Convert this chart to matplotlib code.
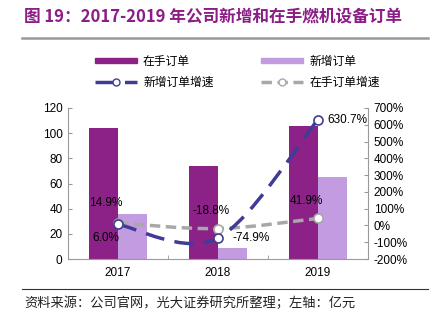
import matplotlib
matplotlib.use('Agg')
import matplotlib.pyplot as plt
import numpy as np
from matplotlib.path import Path
from matplotlib.patches import PathPatch, Patch
from matplotlib.lines import Line2D

plt.rcParams['font.family'] = ['Liberation Sans', 'Noto Sans CJK SC', 'DejaVu Sans']

years = ['2017', '2018', '2019']
backlog = [104, 74, 105.5]        # 在手订单（亿元）
new_orders = [36, 8.7, 65.5]      # 新增订单（亿元）
new_growth = [6.0, -74.9, 630.7]  # 新增订单增速（%）
backlog_growth = [14.9, -18.8, 41.9]  # 在手订单增速（%）

c_dark = '#8C2287'
c_light = '#C39BE0'
c_blue = '#403C96'
c_grey = '#A8A8A8'
c_axis = '#9A9A9A'
cjk = ['Noto Sans CJK SC', 'DejaVu Sans']


def smooth_path(xs, ys):
    # Excel 风格平滑线：Catmull-Rom 转 Bezier
    pts = list(zip(xs, ys))
    ext = [pts[0]] + pts + [pts[-1]]
    verts = [pts[0]]
    codes = [Path.MOVETO]
    for i in range(1, len(ext) - 2):
        p0, p1, p2, p3 = ext[i - 1], ext[i], ext[i + 1], ext[i + 2]
        c1 = (p1[0] + (p2[0] - p0[0]) / 6, p1[1] + (p2[1] - p0[1]) / 6)
        c2 = (p2[0] - (p3[0] - p1[0]) / 6, p2[1] - (p3[1] - p1[1]) / 6)
        verts += [c1, c2, p2]
        codes += [Path.CURVE4] * 3
    return Path(verts, codes)


fig = plt.figure(figsize=(4.3, 3.24), dpi=100)
ax = fig.add_axes([68 / 430, 1 - 259 / 324, 300 / 430, 151 / 324])
ax2 = ax.twinx()

x = np.arange(len(years))
w = 0.29
ax.bar(x - w / 2, backlog, width=w, color=c_dark, zorder=2)
ax.bar(x + w / 2, new_orders, width=w, color=c_light, zorder=2)
ax.set_xlim(-0.5, 2.5)
ax.set_ylim(0, 120)
ax.set_yticks(range(0, 121, 20))
ax.set_xticks(x)
ax.set_xticklabels(years)
ax.set_xticks([0.5, 1.5], minor=True)
ax.tick_params(axis='x', which='major', length=0, labelsize=8.5, pad=6)
ax.tick_params(axis='x', which='minor', direction='in', length=3, color=c_axis)
ax.tick_params(axis='y', direction='in', length=3, color=c_axis, labelsize=8.5, pad=4)

ax2.set_ylim(-200, 700)
ax2.set_yticks(range(-200, 701, 100))
ax2.set_yticklabels([f'{v}%' for v in range(-200, 701, 100)])
ax2.tick_params(axis='y', direction='in', length=3, color=c_axis, labelsize=8.5, pad=4)

for a in (ax, ax2):
    a.spines['top'].set_visible(False)
    for s in ('left', 'right', 'bottom'):
        a.spines[s].set_color(c_axis)
ax.spines['right'].set_visible(False)
ax2.spines['left'].set_visible(False)
ax2.spines['bottom'].set_visible(False)

ax2.add_patch(PathPatch(smooth_path(x, backlog_growth), fill=False, edgecolor=c_grey,
                        lw=2.5, linestyle=(0, (3, 1.6)), capstyle='butt', zorder=3))
ax2.add_patch(PathPatch(smooth_path(x, new_growth), fill=False, edgecolor=c_blue,
                        lw=2.5, linestyle=(0, (5.5, 3)), capstyle='butt', zorder=4))
ax2.plot(x, backlog_growth, 'o', ms=6.5, mfc='white', mec=c_grey, mew=1.2, zorder=5)
ax2.plot(x, new_growth, 'o', ms=6.5, mfc='white', mec=c_blue, mew=1.2, zorder=6)

# 数据标签 (偏移, 像素 -> 点)
k = 0.72
offs_b = [(-12, 20), (-7, 18), (-12, 17)]
offs_n = [(-12, -14), (33, 0), (29, 0)]
for i in range(3):
    ax2.annotate(f'{backlog_growth[i]:.1f}%', (x[i], backlog_growth[i]),
                 xytext=(offs_b[i][0] * k, offs_b[i][1] * k), textcoords='offset points',
                 ha='center', va='center', fontsize=8.5, zorder=7)
    ax2.annotate(f'{new_growth[i]:.1f}%', (x[i], new_growth[i]),
                 xytext=(offs_n[i][0] * k, offs_n[i][1] * k), textcoords='offset points',
                 ha='center', va='center', fontsize=8.5, zorder=7)

# 图例
handles = [
    Patch(color=c_dark),
    Line2D([], [], color=c_blue, lw=2.5, marker='o', ms=5, mfc='white', mec=c_blue,
           linestyle=(0, (5.5, 3))),
    Patch(color=c_light),
    Line2D([], [], color=c_grey, lw=2.5, marker='o', ms=5, mfc='white', mec=c_grey,
           linestyle=(0, (3, 1.6))),
]
labels = ['在手订单', '新增订单增速', '新增订单', '在手订单增速']
leg = fig.legend(handles, labels, loc='upper left', bbox_to_anchor=(84 / 430, 1 - 44 / 324),
                 ncol=2, frameon=False, prop={'family': cjk, 'size': 8.5},
                 handlelength=3.6, handleheight=0.35, handletextpad=0.5,
                 columnspacing=4.0, labelspacing=0.7)

# 标题
fig.text(24 / 430, 1 - 17 / 324, '图 19：2017-2019 年公司新增和在手燃机设备订单',
         family=cjk, fontsize=12, fontweight='bold', color='#8C1D86', va='center')
fig.add_artist(Line2D([22 / 430, 428 / 430], [1 - 38 / 324] * 2, color='#999999', lw=1.8))

# 底部
fig.add_artist(Line2D([22 / 430, 428 / 430], [1 - 289 / 324] * 2, color='#333333', lw=0.8))
fig.text(24 / 430, 1 - 303 / 324, '资料来源：公司官网，光大证券研究所整理；左轴：亿元',
         family=cjk, fontsize=9.5, color='#222222', va='center')

fig.savefig('out.png', dpi=100)
